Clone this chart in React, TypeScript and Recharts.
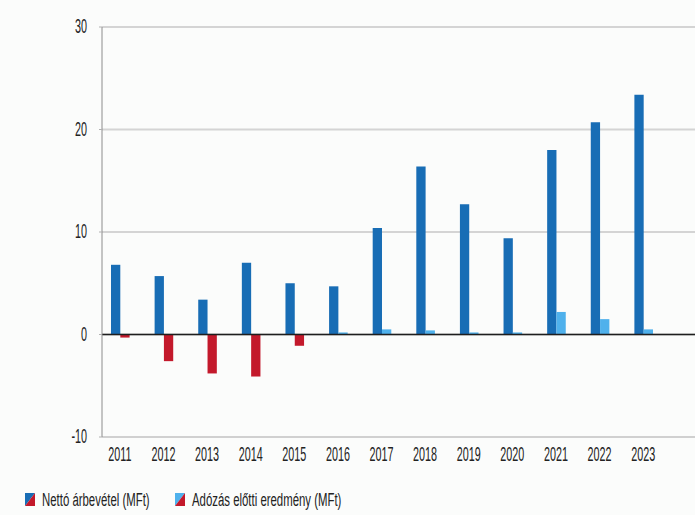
import { Bar, BarChart, CartesianGrid, Cell, ReferenceLine, XAxis, YAxis } from "recharts";

const years = ["2011", "2012", "2013", "2014", "2015", "2016", "2017", "2018", "2019", "2020", "2021", "2022", "2023"];
const netto = [6.8, 5.7, 3.4, 7.0, 5.0, 4.7, 10.4, 16.4, 12.7, 9.4, 18.0, 20.7, 23.4];
const adozas = [-0.3, -2.6, -3.8, -4.1, -1.1, 0.2, 0.5, 0.4, 0.2, 0.2, 2.2, 1.5, 0.5];
const yTicks = [-10, 0, 10, 20, 30];

const data = years.map((year, i) => ({ year, netto: netto[i], adozas: adozas[i] }));

const darkBlue = "#186db5";
const lightBlue = "#4fb1ec";
const red = "#c3192b";
const font = "'Liberation Sans', Arial, sans-serif";

function XTick({ x, y, payload }: { x?: number; y?: number; payload?: { value: string } }) {
  return (
    <g transform={`translate(${x},${y})`}>
      <text transform="scale(0.54,1)" textAnchor="middle" dy={24} fontSize={20} fontFamily={font} fill="#222">
        {payload?.value}
      </text>
    </g>
  );
}

function YTick({ x, y, payload }: { x?: number; y?: number; payload?: { value: number } }) {
  return (
    <g transform={`translate(${x},${y})`}>
      <text transform="scale(0.54,1)" textAnchor="end" dy={6} fontSize={20} fontFamily={font} fill="#222">
        {payload?.value}
      </text>
    </g>
  );
}

function LegendItem({ x, top, label }: { x: number; top: string; label: string }) {
  return (
    <g>
      <polygon points={`${x},493 ${x + 10},493 ${x},506`} fill={top} />
      <polygon points={`${x + 10},493 ${x + 10},506 ${x},506`} fill={red} />
      <g transform={`translate(${x + 17},506)`}>
        <text transform="scale(0.6,1)" fontSize={19} fontFamily={font} fill="#222">
          {label}
        </text>
      </g>
    </g>
  );
}

export default function App() {
  return (
    <div
      style={{
        position: "absolute",
        left: 0,
        top: 0,
        width: 695,
        height: 515,
        overflow: "hidden",
        background: "#fbfcfb",
      }}
    >
      <BarChart
        width={710}
        height={515}
        data={data}
        margin={{ top: 27, right: 0, left: 0, bottom: 0 }}
        barGap={0}
        barSize={9.3}
      >
        <CartesianGrid vertical={false} stroke="#d4d4d4" strokeWidth={2} />
        <XAxis
          dataKey="year"
          height={78}
          padding={{ left: -4, right: 45 }}
          axisLine={{ stroke: "#d0d0d0", strokeWidth: 2 }}
          tickLine={false}
          tickSize={0}
          tickMargin={0}
          tick={<XTick />}
          interval={0}
        />
        <YAxis
          width={102}
          domain={[-10, 30]}
          ticks={yTicks}
          axisLine={{ stroke: "#8c8c8c", strokeWidth: 1 }}
          tickLine={{ stroke: "#b0b0b0" }}
          tickSize={3}
          tickMargin={12}
          tick={<YTick />}
        />
        <ReferenceLine y={0} stroke="#1e1e1e" strokeWidth={1.5} />
        <Bar dataKey="netto" name="Nettó árbevétel (MFt)" fill={darkBlue} isAnimationActive={false} />
        <Bar dataKey="adozas" name="Adózás előtti eredmény (MFt)" fill={lightBlue} isAnimationActive={false}>
          {adozas.map((v, i) => (
            <Cell key={i} fill={v < 0 ? red : lightBlue} />
          ))}
        </Bar>
      </BarChart>
      <svg width={695} height={515} style={{ position: "absolute", left: 0, top: 0, pointerEvents: "none" }}>
        <LegendItem x={25} top={darkBlue} label="Nettó árbevétel (MFt)" />
        <LegendItem x={175} top={lightBlue} label="Adózás előtti eredmény (MFt)" />
      </svg>
    </div>
  );
}
